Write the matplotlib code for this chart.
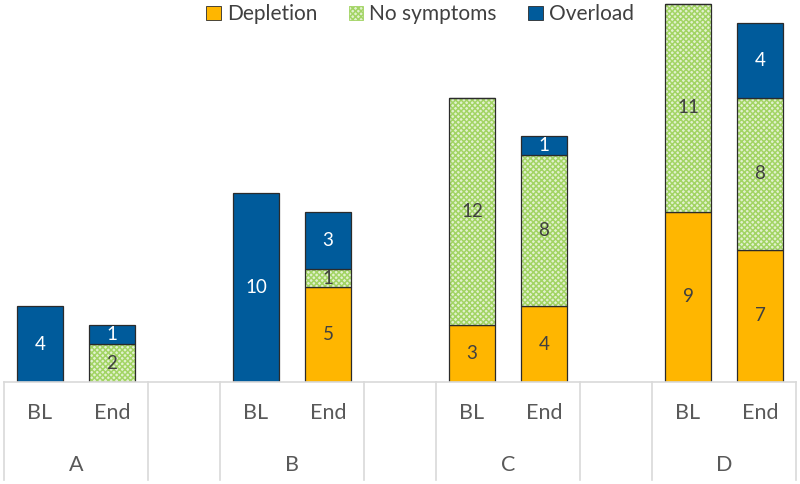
import numpy as np
import matplotlib.pyplot as plt
from matplotlib.patches import Patch

plt.rcParams['font.family'] = ['Lato', 'DejaVu Sans']
plt.rcParams['hatch.linewidth'] = 1.1

groups = ['A', 'B', 'C', 'D']
times = ['BL', 'End']
# values per bar, order: A BL, A End, B BL, B End, C BL, C End, D BL, D End
depletion = [0, 0, 0, 5, 3, 4, 9, 7]
no_symptoms = [0, 2, 0, 1, 12, 8, 11, 8]
overload = [4, 1, 10, 3, 0, 1, 0, 4]

c_dep = '#ffb600'
c_green = '#a2d464'
c_fill = '#e2f1cf'
c_blue = '#005b9b'
c_edge = '#2b2b2b'
c_text = '#404040'

# positions: two bars per group, an empty slot between groups
pos = []
for g in range(len(groups)):
    pos += [g * 3, g * 3 + 1]
pos = np.array(pos)

fig = plt.figure(figsize=(8, 4.84), dpi=100)
ax = fig.add_axes([0.005, 0.2107, 0.99, 0.7893])

w = 0.64
dep = np.array(depletion)
ns = np.array(no_symptoms)
ov = np.array(overload)

ax.bar(pos, dep, w, color=c_dep, edgecolor=c_edge, linewidth=0.9)
# hatched middle segment: checker look, then outline on top
ax.bar(pos, ns, w, bottom=dep, color=c_fill, edgecolor=c_green, hatch='xxxxxx', linewidth=0)
ax.bar(pos, ns, w, bottom=dep, color='none', edgecolor=c_edge, linewidth=0.9)
ax.bar(pos, ov, w, bottom=dep + ns, color=c_blue, edgecolor=c_edge, linewidth=0.9)

for i, x in enumerate(pos):
    segs = [(dep[i], 0, c_text), (ns[i], dep[i], c_text), (ov[i], dep[i] + ns[i], 'white')]
    for v, b, col in segs:
        if v > 0:
            ax.text(x, b + v / 2, str(v), ha='center', va='center', fontsize=13.5, color=col)

ax.set_xlim(-0.5, 10.5)
ax.set_ylim(0, 20.2)
ax.set_xticks([])
ax.set_yticks([])
for s in ax.spines.values():
    s.set_visible(False)
ax.axhline(0, color='#d9d9d9', linewidth=1.2, clip_on=False)

# category table below the bars
tr = ax.get_xaxis_transform()
for x in [-0.5, 1.5, 2.5, 4.5, 5.5, 7.5, 8.5, 10.5]:
    ax.plot([x, x], [0, -0.256], color='#d9d9d9', linewidth=1.2, transform=tr, clip_on=False)
for i, x in enumerate(pos):
    ax.text(x, -0.082, times[i % 2], ha='center', va='center', fontsize=15.5, color='#595959', transform=tr)
for g, name in enumerate(groups):
    ax.text(g * 3 + 0.5, -0.218, name, ha='center', va='center', fontsize=15.5, color='#595959', transform=tr)

handles = [Patch(facecolor=c_dep, edgecolor=c_edge, linewidth=0.6),
           Patch(facecolor=c_fill, edgecolor=c_green, hatch='xxxxxx', linewidth=0.6),
           Patch(facecolor=c_blue, edgecolor=c_edge, linewidth=0.6)]
fig.legend(handles, ['Depletion', 'No symptoms', 'Overload'], loc='upper center',
           bbox_to_anchor=(0.525, 1.03), ncol=3, frameon=False, fontsize=15,
           handlelength=0.7, handleheight=0.7, handletextpad=0.3, columnspacing=1.5,
           labelcolor='#404040')

fig.savefig('out.png', dpi=100)
